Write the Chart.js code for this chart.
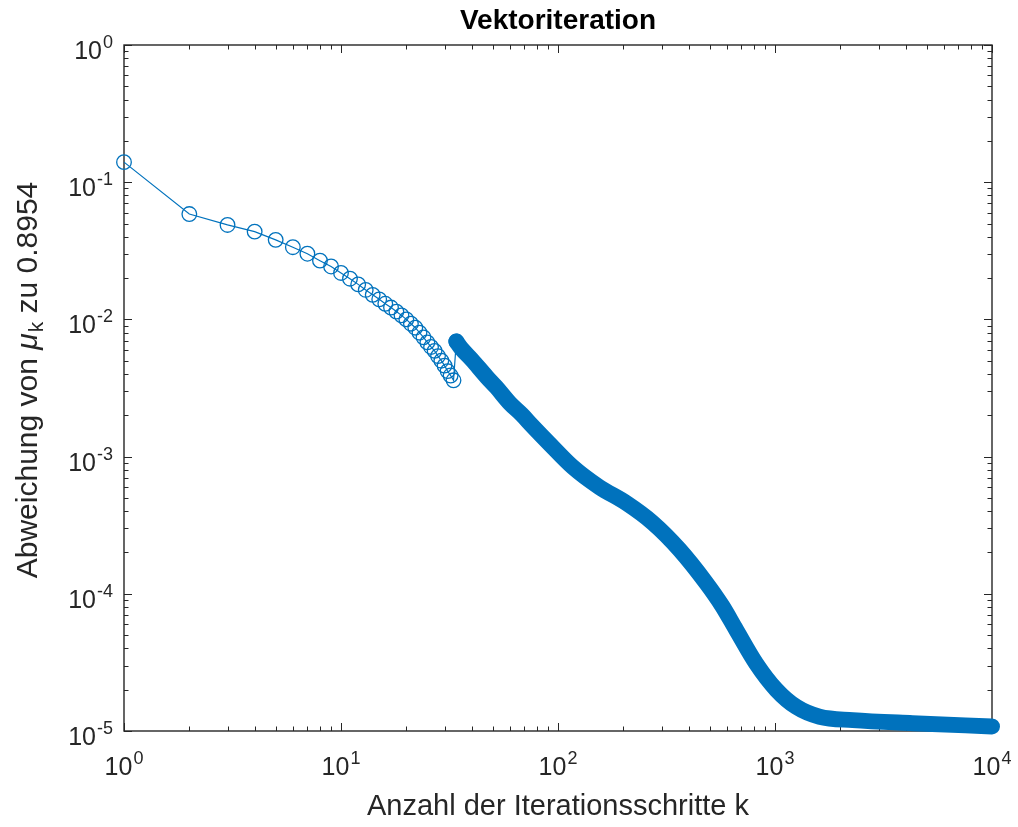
<!DOCTYPE html>
<html>
<head>
<meta charset="utf-8">
<script src="https://cdn.jsdelivr.net/npm/chart.js@4/dist/chart.umd.min.js"></script>
<style>
html,body{margin:0;padding:0;background:#fff;}
canvas{display:block;}
</style>
</head>
<body>
<canvas id="c" width="1018" height="827"></canvas>
<script>
// ---- text ----
const titleText = 'Vektoriteration';
const xLabelText = 'Anzahl der Iterationsschritte k';
const yLabelPre = 'Abweichung von ';
const yLabelSymbol = 'μ';
const yLabelSub = 'k';
const yLabelPost = ' zu 0.8954';

// ---- tick labels (powers of ten) ----
const xTickExponents = [0, 1, 2, 3, 4];
const yTickExponents = [-5, -4, -3, -2, -1, 0];

// ---- data ----
// individual iterations (distinct circle markers)
const earlyK = [1,2,3,4,5,6,7,8,9,10,11,12,13,14,15,16,17,18,19,20,21,22,23,24,25,26,27,28,29,30,31,32,33,34];
const earlyDev = [0.140,0.0586,0.0488,0.0436,0.0380,0.0336,0.0301,0.0268,0.0243,0.0218,
                  0.0198,0.0180,0.0164,0.0151,0.0140,0.0130,0.0122,0.0114,0.0107,0.0100,
                  0.0093,0.0087,0.0080,0.0074,0.0068,0.0063,0.0059,0.0054,0.0050,0.0046,
                  0.0042,0.0039,0.0036,0.0069];
// dense part (markers merge into a solid band)
const lateK = [34,36,40,47,52,60,68,76,91,117,155,206,273,363,482,570,663,819,1014,1253,1604,2284,4300,10000];
const lateDev = [0.0069,0.0061,0.0051,0.0038,0.0032,0.00245,0.00203,0.00168,0.00125,0.00084,
                 0.00060,0.00046,0.00033,0.00021,0.00012,0.000082,0.0000545,0.000031,0.000020,
                 0.000015,0.0000127,0.0000120,0.0000114,0.0000108];

const BLUE = '#0072BD';
const AXIS = '#262626';
const FONT = '"Liberation Sans", Arial, Helvetica, sans-serif';

function drawPow(ctx, e, xa, yb, align) {
  const base = '10';
  const sup = String(e);
  ctx.font = '25px ' + FONT;
  const wb = ctx.measureText(base).width;
  ctx.font = '18px ' + FONT;
  const ws = ctx.measureText(sup).width;
  const total = wb + ws + 1;
  let x0 = align === 'center' ? xa - total / 2 : xa - total;
  ctx.textAlign = 'left';
  ctx.textBaseline = 'alphabetic';
  ctx.font = '25px ' + FONT;
  ctx.fillText(base, x0, yb);
  ctx.font = '18px ' + FONT;
  ctx.fillText(sup, x0 + wb + 1, yb - 11);
}

const matlabAxes = {
  id: 'matlabAxes',
  beforeDatasetsDraw(chart) {
    const { ctx, chartArea: a, scales: { x, y } } = chart;
    ctx.save();
    ctx.strokeStyle = AXIS;
    ctx.lineWidth = 1.4;
    ctx.strokeRect(a.left, a.top, a.right - a.left, a.bottom - a.top);
    ctx.lineWidth = 1;
    ctx.beginPath();
    xTickExponents.forEach(e => {
      for (let m = 1; m <= 9; m++) {
        const v = m * Math.pow(10, e);
        if (v > x.max * 1.0001) break;
        const px = Math.round(x.getPixelForValue(v)) + 0.5;
        const len = m === 1 ? 8 : 4.5;
        ctx.moveTo(px, a.bottom); ctx.lineTo(px, a.bottom - len);
        ctx.moveTo(px, a.top); ctx.lineTo(px, a.top + len);
      }
    });
    yTickExponents.forEach(e => {
      for (let m = 1; m <= 9; m++) {
        const v = m * Math.pow(10, e);
        if (v > y.max * 1.0001) break;
        const py = Math.round(y.getPixelForValue(v)) + 0.5;
        const len = m === 1 ? 8 : 4.5;
        ctx.moveTo(a.left, py); ctx.lineTo(a.left + len, py);
        ctx.moveTo(a.right, py); ctx.lineTo(a.right - len, py);
      }
    });
    ctx.stroke();
    ctx.restore();
  },
  afterDraw(chart) {
    const { ctx, chartArea: a, scales: { x, y } } = chart;
    ctx.save();
    ctx.fillStyle = AXIS;
    xTickExponents.forEach(e => {
      drawPow(ctx, e, x.getPixelForValue(Math.pow(10, e)), a.bottom + 44, 'center');
    });
    yTickExponents.forEach(e => {
      drawPow(ctx, e, a.left - 11, y.getPixelForValue(Math.pow(10, e)) + 14, 'right');
    });
    // x label
    ctx.font = '29px ' + FONT;
    ctx.textAlign = 'center';
    ctx.textBaseline = 'alphabetic';
    ctx.fillText(xLabelText, (a.left + a.right) / 2, 815);
    // title
    ctx.fillStyle = '#000';
    ctx.font = 'bold 28px ' + FONT;
    ctx.fillText(titleText, (a.left + a.right) / 2, 29);
    // y label (rotated, with italic mu and subscript k)
    ctx.fillStyle = AXIS;
    ctx.translate(37, 380);
    ctx.rotate(-Math.PI / 2);
    ctx.textAlign = 'left';
    const fN = '30px ' + FONT, fI = 'italic 30px ' + FONT, fS = '21px ' + FONT;
    ctx.font = fN; const w1 = ctx.measureText(yLabelPre).width;
    ctx.font = fI; const w2 = ctx.measureText(yLabelSymbol).width + 1;
    ctx.font = fS; const w3 = ctx.measureText(yLabelSub).width;
    ctx.font = fN; const w4 = ctx.measureText(yLabelPost).width;
    let cx = -(w1 + w2 + w3 + w4) / 2;
    ctx.font = fN; ctx.fillText(yLabelPre, cx, 0); cx += w1;
    ctx.font = fI; ctx.fillText(yLabelSymbol, cx, 0); cx += w2;
    ctx.font = fS; ctx.fillText(yLabelSub, cx, 6); cx += w3;
    ctx.font = fN; ctx.fillText(yLabelPost, cx, 0);
    ctx.restore();
  }
};

new Chart(document.getElementById('c'), {
  type: 'line',
  data: {
    datasets: [
      {
        label: 'dense',
        data: lateK.map((k, i) => ({ x: k, y: lateDev[i] })),
        borderColor: BLUE,
        borderWidth: 16,
        borderCapStyle: 'round',
        borderJoinStyle: 'round',
        cubicInterpolationMode: 'monotone',
        pointRadius: 0,
        fill: false,
        clip: false
      },
      {
        label: 'early',
        data: earlyK.map((k, i) => ({ x: k, y: earlyDev[i] })),
        borderColor: BLUE,
        borderWidth: 1.2,
        pointStyle: 'circle',
        pointRadius: 7.3,
        pointBorderWidth: 1.3,
        pointBorderColor: BLUE,
        pointBackgroundColor: 'rgba(0,0,0,0)',
        tension: 0,
        fill: false,
        clip: false
      }
    ]
  },
  options: {
    responsive: false,
    animation: false,
    devicePixelRatio: 1,
    layout: { padding: { left: 124, right: 26, top: 45, bottom: 96 } },
    plugins: { legend: { display: false }, tooltip: { enabled: false }, title: { display: false } },
    scales: {
      x: { type: 'logarithmic', min: 1, max: 10000, display: false },
      y: { type: 'logarithmic', min: 0.00001, max: 1, display: false }
    }
  },
  plugins: [matlabAxes]
});
</script>
</body>
</html>
